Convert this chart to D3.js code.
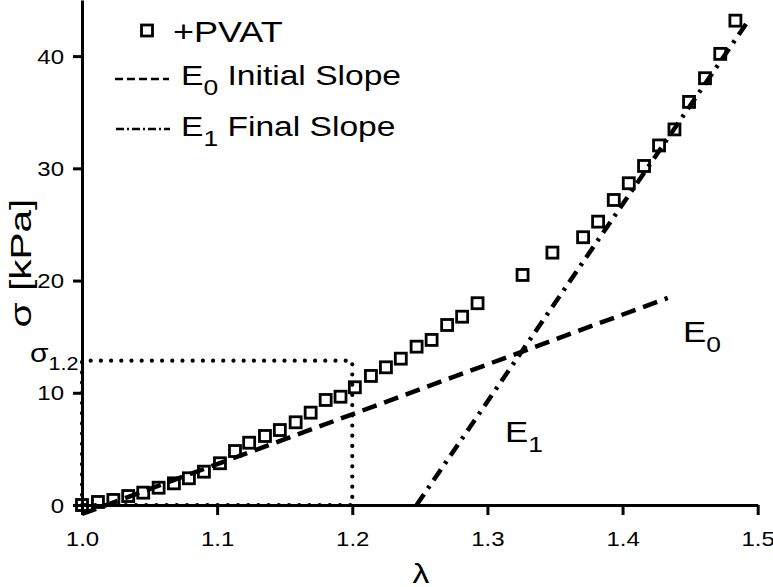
<!DOCTYPE html>
<html>
<head>
<meta charset="utf-8">
<script src="https://cdn.jsdelivr.net/npm/d3@7"></script>
<style>
  body { margin: 0; background: #fff; }
  svg { display: block; font-family: "Liberation Sans", Arial, sans-serif; }
</style>
</head>
<body>
<svg id="chart" width="773" height="587"></svg>
<script>
// data
let lambda = [1.000, 1.0118, 1.0232, 1.0342, 1.0453, 1.0567, 1.0680, 1.0791, 1.0902, 1.1021,
              1.1132, 1.1237, 1.1354, 1.1464, 1.1581, 1.1692, 1.1803, 1.1913, 1.2019, 1.2138,
              1.2249, 1.2359, 1.2476, 1.2587, 1.2702, 1.2813, 1.2927, 1.3260, 1.3481, 1.3708,
              1.3819, 1.3935, 1.4046, 1.4159, 1.4270, 1.4384, 1.4492, 1.4610, 1.4723, 1.4835];
let sigma = [0.00, 0.27, 0.45, 0.80, 1.10, 1.54, 1.93, 2.38, 2.97, 3.72,
             4.81, 5.55, 6.15, 6.68, 7.37, 8.23, 9.36, 9.65, 10.49, 11.50,
             12.27, 13.04, 14.11, 14.71, 16.04, 16.78, 17.98, 20.50, 22.49, 23.86,
             25.25, 27.18, 28.67, 30.21, 32.04, 33.47, 35.92, 38.03, 40.20, 43.16];
let e0Line = [[1.0, -0.8], [1.4334, 18.45]];   // initial slope
let e1Line = [[1.2476, 0], [1.4933, 43.2]];    // final slope
let sigma12 = 12.86;
let xTicks = [1.0, 1.1, 1.2, 1.3, 1.4, 1.5];
let yTicks = [0, 10, 20, 30, 40];

let svg = d3.select("#chart");
let x = d3.scaleLinear().domain([1.0, 1.5]).range([82, 757.7]);
let y = d3.scaleLinear().domain([0, 45]).range([505, 0]);
let sx = 1.2; // picture is a bit wide, text stretched sideways

function label(g, px, py, size, anchor){
    return g.append("text")
        .attr("transform", `translate(${px},${py}) scale(${sx},1)`)
        .attr("font-size", size)
        .attr("fill", "#000")
        .attr("text-anchor", anchor || "start");
}

// dotted box for sigma at lambda 1.2
let box = [[1.0, 0], [1.0, sigma12], [1.2, sigma12], [1.2, 0], [1.0, 0]];
svg.append("path")
    .attr("d", d3.line().x(d => x(d[0])).y(d => y(d[1]))(box))
    .attr("fill", "none").attr("stroke", "#000")
    .attr("stroke-width", 4.2).attr("stroke-linecap", "round")
    .attr("stroke-dasharray", "0,10.2");

// axes
let xAxis = svg.append("g").attr("transform", `translate(0,${y(0)})`)
    .call(d3.axisBottom(x).tickValues(xTicks).tickSize(10).tickSizeOuter(0)
        .tickFormat(d3.format(".1f")));
let yAxis = svg.append("g").attr("transform", `translate(${x(1.0)},0)`)
    .call(d3.axisLeft(y).tickValues(yTicks).tickSize(9).tickSizeOuter(0));
for (let ax of [xAxis, yAxis]) {
    ax.select(".domain").attr("stroke-width", 3);
    ax.selectAll(".tick line").attr("stroke-width", 3);
    ax.selectAll(".tick text").remove();
}
xAxis.selectAll(".tick").each(function(d){
    label(d3.select(this), 0, 41, 20, "middle").text(d3.format(".1f")(d));
});
yAxis.selectAll(".tick").each(function(d){
    label(d3.select(this), -18, 7, 20, "end").text(d);
});

// slope lines
let line = d3.line().x(d => x(d[0])).y(d => y(d[1]));
svg.append("path").attr("d", line(e0Line))
    .attr("fill", "none").attr("stroke", "#000").attr("stroke-width", 4.5)
    .attr("stroke-dasharray", "15,8");
svg.append("path").attr("d", line(e1Line))
    .attr("fill", "none").attr("stroke", "#000").attr("stroke-width", 4.5)
    .attr("stroke-dasharray", "13,7,3,7");

// data markers
svg.selectAll(".pt").data(lambda).enter()
    .append("rect").attr("class", "pt")
    .attr("x", (d, i) => x(d) - 5.5)
    .attr("y", (d, i) => y(sigma[i]) - 5.5)
    .attr("width", 11).attr("height", 11)
    .attr("fill", "none").attr("stroke", "#000").attr("stroke-width", 2.8);

// labels inside plot
let e0 = label(svg, 683, 342, 29);
e0.append("tspan").text("E");
e0.append("tspan").attr("font-size", 22).attr("dy", 10).text("0");
let e1 = label(svg, 505, 442, 29);
e1.append("tspan").text("E");
e1.append("tspan").attr("font-size", 22).attr("dy", 10).text("1");
let s12 = label(svg, 30, 362, 25);
s12.append("tspan").text("σ");
s12.append("tspan").attr("font-size", 18).attr("dy", 8).text("1.2");

// axis titles
label(svg, 421, 583, 28, "middle").text("λ");
svg.append("text")
    .attr("transform", "translate(31,263) rotate(-90) scale(1.4,1)")
    .attr("font-size", 29).attr("text-anchor", "middle")
    .text("σ [kPa]");

// legend
svg.append("rect").attr("x", 141.5).attr("y", 25).attr("width", 11).attr("height", 11)
    .attr("fill", "none").attr("stroke", "#000").attr("stroke-width", 2.8);
label(svg, 173, 42, 30).text("+PVAT");
svg.append("line").attr("x1", 115).attr("x2", 169).attr("y1", 79).attr("y2", 79)
    .attr("stroke", "#000").attr("stroke-width", 2.5).attr("stroke-dasharray", "8,4");
let l0 = label(svg, 181, 85, 28);
l0.append("tspan").text("E");
l0.append("tspan").attr("font-size", 22).attr("dy", 10).text("0");
l0.append("tspan").attr("dy", -10).text(" Initial Slope");
svg.append("line").attr("x1", 116).attr("x2", 170).attr("y1", 129).attr("y2", 129)
    .attr("stroke", "#000").attr("stroke-width", 2.5).attr("stroke-dasharray", "8,3,2,3");
let l1 = label(svg, 181, 136, 28);
l1.append("tspan").text("E");
l1.append("tspan").attr("font-size", 22).attr("dy", 10).text("1");
l1.append("tspan").attr("dy", -10).text(" Final Slope");
</script>
</body>
</html>
